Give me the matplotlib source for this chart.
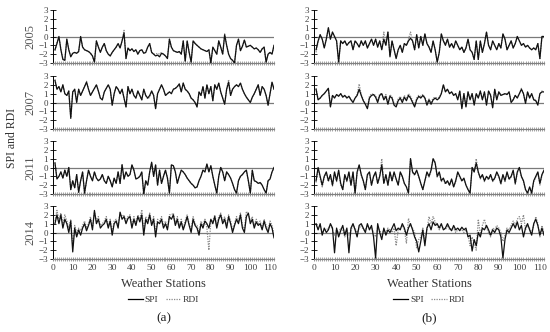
import numpy as np
import matplotlib.pyplot as plt
from matplotlib.ticker import MultipleLocator

plt.rcParams['font.family'] = ['Liberation Serif', 'DejaVu Serif']

years = ['2005', '2007', '2011', '2014']
stations = np.arange(1, 113)

# panel (a)
a05_spi = [-1.5, -0.8, 0.0, -1.5, -2.6, -2.7, -0.3, -1.5, -2.3, -1.9,
           -1.8, -1.9, -1.7, 0.0, -1.2, -1.5, -1.6, -1.7, -1.9, -2.2,
           -2.9, -0.5, -1.2, -1.8, -1.2, -0.8, -1.6, -2.0, -2.2, -1.8,
           -1.5, -1.2, -0.8, -1.3, -0.5, 0.4, -2.5, -1.3, -1.6, -1.4,
           -1.7, -1.5, -2.0, -1.6, -1.5, -1.9, -1.8, -1.2, -0.8, -1.8,
           -2.0, -2.2, -2.1, -2.3, -1.9, -2.0, -2.2, -2.5, -0.3, -1.2,
           -1.6, -1.7, -1.8, -1.7, -2.0, -0.5, -2.8, -0.5, -1.8, -2.9,
           -0.5, -0.8, -1.0, -1.2, -1.4, -1.5, -1.6, -1.7, -1.5, -3.0,
           -1.2, -1.6, -2.0, -0.5, -1.2, -2.0, 0.2, -1.0, -2.0, -2.5,
           -2.7, -3.0, -1.0, -0.3, -1.6, -1.1, -0.4, -1.2, -1.1, -1.0,
           -1.2, -1.4, -1.3, -1.5, -1.8, -1.4, -1.2, -2.9, -2.0, -1.8,
           -2.0, -1.0]
a05_rdi = [-1.6, -0.7, 0.0, -1.5, -2.5, -2.7, -0.3, -1.5, -2.2, -1.9,
           -1.8, -1.9, -1.7, 0.0, -1.2, -1.5, -1.6, -1.7, -1.9, -2.2,
           -2.9, -0.5, -1.2, -1.7, -1.2, -0.8, -1.6, -2.0, -2.2, -1.8,
           -1.5, -1.2, -0.8, -1.3, -0.5, 0.7, -2.5, -1.3, -1.6, -1.4,
           -1.7, -1.5, -2.0, -1.6, -1.5, -1.9, -1.8, -1.2, -0.8, -1.8,
           -2.0, -2.0, -1.9, -2.0, -1.8, -2.0, -2.2, -2.4, -0.3, -1.2,
           -1.6, -1.7, -1.8, -1.7, -2.0, -0.5, -2.8, -0.5, -1.8, -2.9,
           -0.5, -0.7, -1.0, -1.2, -1.4, -1.5, -1.6, -1.7, -1.5, -3.0,
           -1.2, -1.6, -2.0, -0.5, -1.2, -2.0, 0.3, -1.0, -2.0, -2.5,
           -2.7, -3.0, -1.0, -0.3, -1.6, -1.1, -0.4, -1.2, -1.1, -1.0,
           -1.2, -1.4, -1.3, -1.5, -1.8, -1.4, -1.2, -2.9, -2.0, -1.8,
           -2.0, -1.0]
a07_spi = [2.5, 1.5, 1.8, 1.2, 2.0, 1.0, 0.8, 1.3, -1.8, 1.2,
           1.5, 0.0, 1.5, 0.8, 1.3, 1.8, 2.3, 1.5, 0.8, 1.2,
           1.6, 2.0, 1.3, 0.5, 0.3, 1.2, 1.6, 2.0, 1.5, -0.3,
           1.0, 1.8, 1.5, 1.0, 1.5, 0.5, -0.5, 1.8, 1.0, 1.5,
           0.8, 0.5, 1.3, 0.8, 0.3, 1.5, 0.8, 0.5, 0.8, 1.3,
           0.8, -0.7, 1.0, 1.5, 2.0, 1.5, 0.8, 1.0, 1.2, 1.0,
           1.5, 1.6, 1.8, 2.1, 1.2, 2.2, 1.5, 1.3, 1.0, 0.5,
           0.3, 0.0, -0.5, 1.2, 0.8, 1.8, 0.5, 2.0, 1.0, 1.8,
           0.2, 2.0, 1.5, 2.2, 1.2, 0.5, -0.2, 1.5, 2.3, 0.8,
           1.5, 1.8, 2.0, 1.8, 2.2, 1.5, 1.0, 0.6, 0.3, 0.0,
           0.6, 1.0, 1.5, 2.0, 0.8, 1.8, 1.5, 0.8, -0.3, 1.0,
           2.3, 1.5]
a07_rdi = [2.6, 1.5, 1.8, 1.2, 2.0, 1.0, 0.8, 1.3, -1.7, 1.2,
           1.5, 0.1, 1.5, 0.8, 1.3, 1.8, 2.4, 1.5, 0.8, 1.2,
           1.6, 2.0, 1.3, 0.5, 0.3, 1.2, 1.6, 2.0, 1.5, -0.3,
           1.0, 1.8, 1.5, 1.0, 1.5, 0.5, -0.5, 1.8, 1.0, 1.5,
           0.8, 0.5, 1.3, 0.8, 0.3, 1.5, 0.8, 0.4, 0.6, 1.3,
           0.8, -0.7, 1.0, 1.5, 2.0, 1.5, 0.8, 1.0, 1.2, 1.0,
           1.5, 1.6, 1.8, 2.1, 1.2, 2.2, 1.5, 1.3, 1.0, 0.5,
           0.3, 0.0, -0.5, 1.2, 0.8, 1.8, 0.5, 2.0, 1.0, 1.8,
           0.2, 2.0, 1.5, 2.2, 1.2, 0.5, -0.2, 1.5, 2.6, 0.8,
           1.5, 1.8, 2.0, 1.8, 2.2, 1.5, 1.0, 0.6, 0.3, 0.0,
           0.6, 1.0, 1.5, 2.0, 0.8, 1.8, 1.5, 0.8, -0.3, 1.0,
           2.3, 1.5]
a11_spi = [0.5, -1.3, -1.0, -0.5, -1.2, -0.3, -1.0, 0.0, -2.5, -1.5,
           -2.3, -0.8, -2.8, -1.5, -0.5, -2.9, -1.5, -0.3, -1.0, -1.5,
           -0.5, -1.2, -1.5, -1.3, -0.8, -1.5, -1.8, -1.0, -1.5, -2.2,
           -1.2, -1.8, -0.5, -1.8, 0.3, -1.3, -0.5, -1.0, -0.8, 0.3,
           -0.3, -1.3, -1.2, -1.0, -0.5, -3.0, -1.5, -2.0, -0.5, 0.6,
           -1.0, 0.3, -2.0, -0.3, -1.8, -1.0, -0.3, -1.2, -2.9, 0.3,
           0.2, -0.5, -1.8, -1.0, -0.3, -0.5, -0.8, -1.2, -1.5, -1.8,
           -2.0, -2.3, -2.2, -1.5, -1.0, -0.3, -0.5, 0.4, -0.5, 0.2,
           -1.0, -2.0, -2.9, -1.0, 0.0, -0.5, -1.5, -0.5, -0.8, -1.2,
           -1.8, -2.5, -2.9, -1.5, -1.0, -0.8, -0.5, -0.3, -1.5, -2.9,
           -0.3, -1.5, -1.6, -1.8, -1.7, -2.0, -2.5, -2.9, -1.5, -1.3,
           -0.5, 0.0]
a11_rdi = [0.6, -1.2, -1.0, -0.5, -1.2, -0.3, -1.0, 0.0, -2.5, -1.5,
           -2.3, -0.8, -2.8, -1.5, -0.5, -2.9, -1.5, -0.3, -1.0, -1.5,
           -0.5, -1.2, -1.5, -1.3, -0.8, -1.5, -1.8, -1.0, -1.5, -2.2,
           -1.2, -1.8, -0.5, -1.8, 0.4, -1.3, -0.5, -1.0, -0.8, 0.3,
           -0.3, -1.3, -1.2, -1.0, -0.5, -3.0, -1.5, -2.0, -0.5, 0.5,
           -1.0, 0.3, -2.0, -0.3, -1.8, -1.0, -0.3, -1.2, -2.9, 0.3,
           0.2, -0.5, -1.8, -1.0, -0.3, -0.5, -0.8, -1.2, -1.5, -1.8,
           -2.0, -2.3, -2.2, -1.5, -1.0, -0.3, -0.5, 0.4, -0.5, 0.2,
           -1.0, -2.0, -2.9, -1.0, 0.0, -0.5, -1.5, -0.5, -0.8, -1.2,
           -1.8, -2.5, -2.9, -1.5, -1.0, -0.8, -0.5, -0.3, -1.5, -2.9,
           -0.3, -1.5, -1.6, -1.8, -1.7, -2.0, -2.5, -2.9, -1.5, -1.3,
           -0.5, 0.0]
a14_spi = [1.0, 2.0, 1.0, 2.0, 0.5, 1.5, 1.0, 0.0, 1.3, -2.2,
           0.5, -0.5, 0.3, -0.3, 0.5, 1.0, 0.2, 0.8, 1.5, 0.3,
           2.5, 1.0, 1.5, 0.5, 0.8, 1.0, 1.5, 0.5, 1.3, -0.3,
           1.0, 1.3, 0.5, 2.3, 1.5, 1.8, 1.0, 1.6, 1.8, 0.5,
           1.5, 0.8, 1.8, 1.2, 2.0, -0.3, 1.5, 1.0, 2.0, 0.8,
           1.5, -0.5, 1.2, 1.0, 1.5, 0.5, 1.0, 0.3, 1.8, 1.5,
           2.0, 0.8, 1.5, 0.5, 1.2, 0.3, 1.0, 1.8, 0.8, 0.0,
           1.5, 0.8, 0.5, -0.3, 1.0, 0.5, 1.3, 1.0, 0.5, 1.5,
           1.0, 1.8, 0.5, 1.5, 2.0, 1.0, 1.5, 0.5, 1.8, 1.0,
           0.0, 0.8, 1.5, 1.0, 2.0, 0.5, 0.0, 1.8, 2.2, 1.0,
           1.5, 0.5, 1.2, 0.8, 1.0, 0.3, 1.3, 0.5, 0.0, 1.0,
           0.5, -0.6]
a14_rdi = [1.3, 2.5, 1.5, 2.2, 1.0, 2.0, 1.3, 0.5, 1.5, -1.5,
           0.8, 0.0, 0.5, 0.2, 0.8, 1.3, 0.5, 1.0, 1.8, 0.5,
           2.3, 1.3, 1.8, 0.8, 1.0, 1.3, 1.8, 0.8, 1.5, 0.0,
           1.3, 1.5, 0.8, 2.2, 1.8, 2.0, 1.3, 1.8, 2.0, 0.8,
           1.8, 1.0, 2.0, 1.5, 2.6, 0.2, 1.8, 1.3, 2.2, 1.0,
           1.8, 0.0, 1.5, 1.3, 1.8, 0.8, 1.3, 0.5, 2.0, 2.0,
           2.2, 1.0, 1.8, 0.8, 1.5, 0.5, 1.3, 2.0, 1.0, 0.3,
           1.8, 1.0, 0.8, 0.0, 1.3, 0.8, 1.5, 0.5, -2.0, 1.3,
           1.3, 2.0, 0.8, 1.8, 2.2, 1.3, 1.8, 0.8, 2.0, 1.3,
           0.3, 1.0, 1.8, 1.3, 2.2, 0.8, 0.3, 2.4, 2.0, 1.3,
           1.8, 0.8, 1.5, 1.0, 1.3, 0.5, 1.5, 0.8, 0.3, 1.3,
           0.8, -0.3]

# panel (b)
b05_spi = [-1.5, -0.5, 0.2, -0.3, -1.3, -0.3, 1.0, -0.3, 0.5, 0.0,
           -0.5, -2.9, -0.5, -0.8, -0.5, -1.0, -0.7, -0.5, -1.5, -0.5,
           -0.8, -1.2, -0.5, -1.0, -0.5, -1.3, -0.8, -0.3, -1.0, -0.3,
           -1.2, -0.5, -1.5, -0.3, -1.0, 0.5, -2.3, -0.5, -1.5, -2.5,
           -1.5, -1.0, -1.8, -0.8, -1.0, -0.5, -0.2, -0.5, -1.5, 0.2,
           -1.3, 0.0, -1.0, 0.3, -0.8, -1.2, -1.8, -0.5, -1.5, -2.9,
           -1.8, 0.3, -0.5, -1.0, -0.3, -1.2, -0.8, -1.3, -0.5, -1.0,
           -1.5, -1.2, -1.8, -1.3, -0.3, -1.5, -1.8, -2.6, -0.5, -2.6,
           -0.5, -1.8, -0.8, 0.5, -1.0, -1.5, -0.5, -1.0, -1.5, -0.8,
           -1.3, 0.3, -0.3, -1.5, -1.0, -0.5, -1.3, -0.8, 0.0, -0.5,
           -1.0, -0.8, -1.2, -1.0, -1.3, -1.5, -1.3, -1.5, -0.8, -2.5,
           0.0, 0.0]
b05_rdi = [-1.8, -0.6, 0.2, -0.3, -1.2, -0.3, 0.9, -0.3, 0.5, 0.0,
           -0.5, -2.9, -0.5, -0.8, -0.5, -1.0, -0.7, -0.5, -1.5, -0.5,
           -0.8, -1.2, -0.5, -1.0, -0.5, -1.3, -0.8, -0.3, -1.0, -0.3,
           -1.2, -0.5, -1.4, 0.5, -0.9, 0.5, -2.2, -0.5, -1.5, -2.4,
           -1.5, -1.0, -1.8, -0.8, -1.0, -0.3, 0.5, -0.5, -1.5, 0.2,
           -1.3, 0.0, -1.0, 0.3, -0.8, -1.2, -1.7, -0.5, -1.5, -2.9,
           -1.8, 0.3, -0.5, -0.8, -0.3, -1.2, -0.8, -1.3, -0.5, -1.0,
           -1.5, -1.2, -1.8, -1.3, -0.3, -1.5, -1.8, -2.6, -0.5, -2.6,
           -0.5, -1.8, -0.8, 0.5, -1.0, -1.5, -0.5, -1.0, -1.5, -0.8,
           -1.3, 0.3, -0.3, -1.5, -1.0, -0.5, -1.3, -0.8, 0.0, -0.5,
           -1.0, -0.8, -1.2, -1.0, -1.3, -1.5, -1.3, -1.5, -0.8, -2.5,
           0.0, 0.0]
b07_spi = [1.5, 0.3, 0.5, 0.8, 1.0, 1.3, 1.6, -0.5, 0.8, 0.5,
           0.9, 0.7, 1.0, 0.6, 0.8, 0.5, 0.7, 0.3, 0.0, 0.5,
           0.8, 1.5, 0.8, 0.2, -0.2, -0.7, 0.5, 0.8, 0.9, 0.6,
           0.0, 0.8, 1.0, 0.3, 0.7, -0.2, 0.7, 0.5, -0.3, -0.5,
           0.2, 0.5, 0.0, 0.6, 0.2, 0.8, 0.5, 0.0, -0.5, 0.3,
           0.7, 0.5, 0.8, 0.5, -0.3, 0.3, -0.2, 0.3, 0.5, 0.3,
           0.5, 1.0, 2.0, 1.2, 1.5, 1.0, 1.2, 0.8, 1.0, 0.3,
           1.3, -0.7, 1.0, -0.5, 1.2, 0.3, 1.0, -0.3, 1.0, 0.5,
           1.3, 0.3, 1.2, -0.3, 1.3, 0.8, -0.6, 1.5, 0.3, 1.2,
           0.8, 0.9, 1.0, 0.9, 1.2, 0.0, 0.3, 0.8, 0.5, 1.0,
           1.5, 1.0, -0.1, 1.2, 0.5, 1.0, 0.3, 0.2, -0.3, 1.0,
           1.2, 1.2]
b07_rdi = [1.6, 0.4, 0.5, 0.8, 1.0, 1.3, 1.6, -0.4, 0.8, 0.6,
           0.9, 0.8, 1.0, 0.7, 0.8, 0.6, 0.7, 0.4, 0.1, 0.5,
           0.9, 2.1, 0.9, 0.3, -0.1, -0.6, 0.7, 1.0, 0.9, 0.8,
           0.2, 1.0, 1.0, 0.5, 0.9, 0.0, 0.9, 0.6, -0.1, -0.3,
           0.4, 0.7, 0.2, 0.8, 0.4, 1.0, 0.7, 0.2, -0.3, 0.5,
           0.8, 0.7, 0.9, 0.6, -0.1, 0.4, 0.0, 0.5, 0.6, 0.5,
           0.6, 1.0, 2.0, 1.3, 1.5, 1.1, 1.2, 0.9, 1.0, 0.4,
           1.3, -0.6, 1.0, -0.4, 1.2, 0.4, 1.0, -0.2, 1.0, 0.6,
           1.3, 0.4, 1.2, -0.2, 1.3, 0.9, -0.5, 1.5, 0.4, 1.2,
           0.9, 0.9, 1.0, 1.0, 1.2, 0.1, 0.4, 0.8, 0.6, 1.0,
           1.6, 1.0, 0.0, 1.2, 0.6, 1.0, 0.4, 0.3, -0.2, 1.0,
           1.3, 1.2]
b11_spi = [-1.5, 0.0, -1.0, -2.0, -1.0, -0.5, -1.5, -0.8, -2.0, -0.5,
           -1.5, -0.3, -1.8, -2.5, -0.8, -1.5, -0.5, -2.0, -0.5, -2.9,
           -0.5, 0.3, -0.8, -1.5, -2.5, -0.8, -0.5, -2.0, -1.0, -0.5,
           -1.8, -1.0, 0.3, -1.8, -0.8, -2.0, -0.5, -1.5, -0.5, -1.3,
           -2.0, -0.5, -1.0, -1.8, -2.2, -2.9, 1.0, -0.5, -0.8, -0.3,
           -1.0, -1.8, -2.5, -1.5, -0.5, -1.0, -0.3, 1.0, 0.5, -1.0,
           -0.5, -1.5, -1.2, -1.8, -1.5, -2.0, -1.3, -2.2, -1.5, -0.5,
           -1.0, -1.5, -1.2, -2.0, -2.5, -2.9, 0.0, -0.5, 0.5, -0.5,
           -1.2, -0.8, -1.5, -1.0, -1.3, -0.8, -1.5, -1.2, -0.5, -1.0,
           -1.8, -0.8, -1.5, -0.5, -1.3, -1.0, -0.3, -1.8, -0.5, 0.0,
           -1.0, -1.5, -2.5, -2.9, -2.2, -2.9, -1.5, -1.0, -0.5, -1.8,
           -0.8, -0.3]
b11_rdi = [-1.7, -0.1, -1.2, -2.2, -1.1, -0.6, -1.6, -1.0, -2.1, -0.6,
           -1.6, -0.4, -2.0, -2.5, -0.9, -1.6, -0.6, -2.0, -0.6, -2.9,
           -0.6, 0.2, -0.9, -1.6, -2.5, -0.9, -0.6, -2.0, -1.1, -0.6,
           -1.8, -1.0, 1.0, -1.8, -0.9, -2.0, -0.6, -1.5, -0.6, -1.3,
           -2.0, -0.6, -1.1, -1.8, -2.2, -2.9, 1.0, -0.6, -0.9, -0.4,
           -1.1, -1.8, -2.5, -1.5, -0.6, -1.1, -0.4, 1.0, 0.6, -1.1,
           -0.6, -1.6, -1.3, -1.9, -1.6, -2.0, -1.4, -2.2, -1.6, -0.6,
           -1.1, -1.6, -1.3, -2.0, -2.5, -2.9, 0.0, -0.5, 1.0, -0.6,
           -1.3, -0.9, -1.6, -1.1, -1.4, -0.9, -1.6, -1.3, -0.6, -1.1,
           -1.9, -0.9, -1.6, -0.6, -1.4, -1.1, -0.4, -1.9, -0.6, 0.0,
           -1.1, -1.6, -2.5, -2.9, -2.3, -2.9, -1.6, -1.1, -0.6, -2.0,
           -0.9, -0.4]
b14_spi = [1.0, 0.3, 1.0, -0.3, 0.5, 0.0, 0.3, 1.0, 0.5, -2.3,
           0.5, -0.5, 0.2, 0.8, -0.3, 0.5, -2.3, 0.5, 1.0, 0.3,
           -0.5, 0.8, 1.0, 0.5, 0.0, 1.0, 0.3, 0.8, -0.5, -2.9,
           1.0, 0.0, -0.8, 0.5, -0.3, 0.3, 0.0, 0.5, 1.0, 0.2,
           0.5, 0.3, 1.0, 0.5, -0.3, 0.5, 1.0, 0.3, -0.5, -1.0,
           -2.2, -1.0, 0.3, -1.5, 0.5, 1.0, 0.3, 1.2, 0.8, 1.0,
           0.5, 1.0, 0.3, 0.5, 1.0, 0.5, 0.2, 0.8, 0.3, 0.5,
           0.2, 0.6, 0.3, 0.5, -0.5, -0.3, -2.1, -0.8, -1.5, 0.0,
           -0.5, 0.5, 0.3, 0.8, 0.3, -0.3, 0.3, 0.0, 0.5, 0.3,
           -0.5, -2.9, -0.8, 0.3, 0.0, 0.5, 1.0, 0.5, 1.2, 0.3,
           0.8, -0.5, 0.5, 1.0, 0.3, -0.3, 1.0, 1.5, 0.8, -0.3,
           0.5, -0.3]
b14_rdi = [0.8, 0.5, 0.8, 0.0, 0.3, 0.3, 0.5, 0.8, 0.3, -0.3,
           0.3, 0.0, 0.5, 0.3, -0.5, 0.3, -0.3, 0.3, 0.8, 0.5,
           0.0, 0.5, 0.8, 0.3, 0.3, 0.8, 0.5, 0.5, 0.0, -0.5,
           0.5, 0.3, -0.3, 0.3, 0.0, 0.5, 0.3, 0.0, 0.5, -1.5,
           0.3, 0.5, 0.8, 0.3, -1.2, 1.6, 0.8, 0.5, 0.0, -1.8,
           -0.8, -0.5, 0.5, -1.0, 0.3, 1.8, 1.0, 1.8, 1.2, 0.8,
           0.3, 0.8, 0.5, 0.3, 0.8, 0.3, 0.5, 0.5, 0.0, 0.3,
           0.5, 0.3, 0.0, 0.3, -0.3, -1.5, -0.5, -1.2, -2.0, 1.5,
           -0.3, 0.8, 1.5, 0.5, 0.0, -0.5, 0.5, 0.3, 0.8, 0.5,
           0.0, -1.0, -0.3, 0.5, 0.3, 0.8, 1.3, 0.8, 1.5, 1.8,
           1.0, 2.0, 0.3, 0.8, 0.5, 0.0, 0.8, 1.8, 1.0, -0.5,
           0.8, 0.0]

panel_a = [(a05_spi, a05_rdi), (a07_spi, a07_rdi), (a11_spi, a11_rdi), (a14_spi, a14_rdi)]
panel_b = [(b05_spi, b05_rdi), (b07_spi, b07_rdi), (b11_spi, b11_rdi), (b14_spi, b14_rdi)]

W, H = 550, 332
fig = plt.figure(figsize=(W / 100, H / 100), dpi=100)

rows = [(10, 63), (76, 129), (141, 194), (206, 259)]
cols = [(53, 274), (314, 544)]


def px_box(x0, x1, y0, y1):
    return [x0 / W, 1 - y1 / H, (x1 - x0) / W, (y1 - y0) / H]


def draw(ax, spi, rdi, last):
    ax.axhline(0, color='#7a7a7a', lw=0.9, zorder=1)
    ax.plot(stations, rdi, color='#8a8a8a', lw=0.9, ls=(0, (1, 1)), zorder=2)
    ax.plot(stations, spi, color='#111111', lw=0.9, zorder=3)
    ax.set_xlim(0, 112)
    ax.set_ylim(-3, 3)
    ax.yaxis.set_major_locator(MultipleLocator(1))
    ax.xaxis.set_major_locator(MultipleLocator(10))
    ax.xaxis.set_minor_locator(MultipleLocator(1))
    for s in ['top', 'right']:
        ax.spines[s].set_visible(False)
    ax.spines['left'].set_linewidth(0.7)
    ax.spines['bottom'].set_color('#808080')
    ax.spines['bottom'].set_linewidth(0.9)
    ax.tick_params(axis='y', direction='inout', length=4, width=0.6,
                   labelsize=6.5, labelcolor='#404040', pad=1.5)
    ax.tick_params(axis='x', which='major', direction='inout', length=3,
                   width=0.6, color='#808080', labelsize=6.8, labelcolor='#404040', pad=2)
    ax.tick_params(axis='x', which='minor', direction='inout', length=2.2,
                   width=0.5, color='#808080')
    if not last:
        ax.tick_params(axis='x', labelbottom=False)
    ax.patch.set_alpha(0)


for ci, panel in enumerate([panel_a, panel_b]):
    x0, x1 = cols[ci]
    for ri, (spi, rdi) in enumerate(panel):
        y0, y1 = rows[ri]
        ax = fig.add_axes(px_box(x0, x1, y0, y1))
        draw(ax, spi, rdi, ri == 3)
        if ci == 0:
            fig.text(30 / W, 1 - (y0 + y1) / 2 / H, years[ri], rotation=90,
                     ha='center', va='center', fontsize=9, color='#555555')
    xc = (x0 + x1) / 2
    fig.text(xc / W, 1 - 284 / H, 'Weather Stations', ha='center', va='center',
             fontsize=9, color='#333333')
    handles = [plt.Line2D([], [], color='black', lw=0.9),
               plt.Line2D([], [], color='#8a8a8a', lw=0.9, ls=(0, (1, 1)))]
    fig.legend(handles, ['SPI', 'RDI'], loc='center', ncol=2,
               bbox_to_anchor=(xc / W, 1 - 300 / H), frameon=False,
               fontsize=6.8, handlelength=1.6, handletextpad=0.2,
               columnspacing=0.8, labelcolor='#333333')
    fig.text(xc / W, 1 - 318 / H, '(a)' if ci == 0 else '(b)', ha='center',
             va='center', fontsize=9.5, color='#222222')

fig.text(12 / W, 1 - 138 / H, 'SPI and RDI', rotation=90, ha='center',
         va='center', fontsize=8.5, color='#333333')

fig.savefig('out.png', dpi=100)
